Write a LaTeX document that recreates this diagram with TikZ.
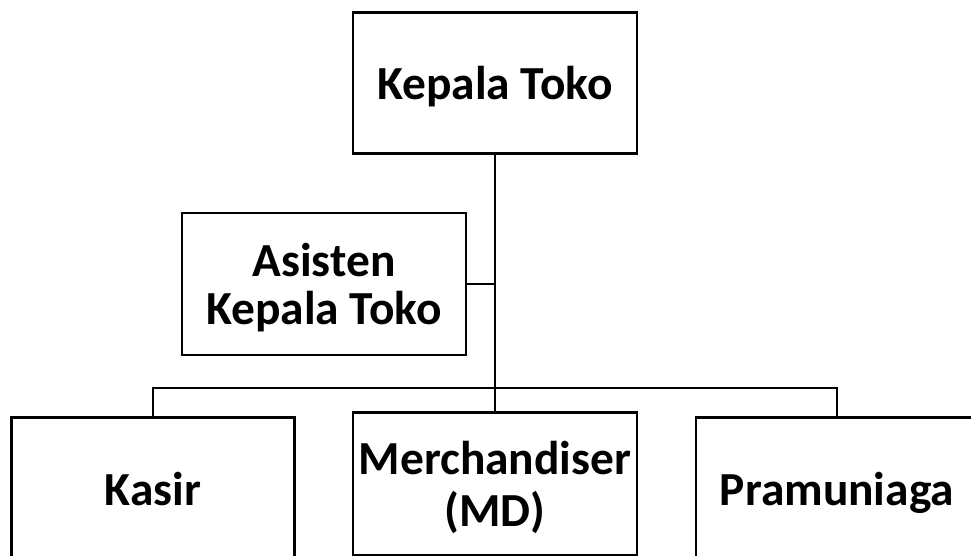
\documentclass[tikz,border=0pt]{standalone}
\usepackage{fontspec}
\setmainfont{Carlito}
\usetikzlibrary{positioning, calc}
\tikzset{
  unit/.style={draw, line width=1.7pt, align=center, font=\fontsize{27}{27}\selectfont\bfseries,
    inner sep=0pt, text depth=0pt},
  link/.style={line width=1.1pt}
}

\begin{document}
\begin{tikzpicture}[x=0.02cm, y=-0.02cm]
      \useasboundingbox (0,0) rectangle (971,555);
      \clip (0,0) rectangle (971,555);
      \node[unit, minimum width=284*0.02cm, minimum height=141*0.02cm] (kepala) at (495,83) {Kepala Toko};
      \node[unit, minimum width=284*0.02cm, minimum height=142*0.02cm] (asisten) at (324,284) {Asisten\\Kepala Toko};
      \node[unit, minimum width=283*0.02cm, minimum height=143*0.02cm] (kasir) at (153,489) {Kasir};
      \node[unit, font=\fontsize{27}{29.5}\selectfont\bfseries, minimum width=284*0.02cm,
        minimum height=143*0.02cm] (merch) at (495,484) {Merchandiser\\(MD)};
      \node[unit, minimum width=282*0.02cm, minimum height=143*0.02cm] (pram) at (837,489) {Pramuniaga};
      % horizontal bar above the three bottom units
      \coordinate (bar) at (495,388);
      \draw[link] (kepala.south) -- (merch.north);
      \draw[link] (asisten.east) -- (asisten.east -| kepala.south);
      \draw[link] (kasir.north) |- (bar) -| (pram.north);
   \end{tikzpicture}
\end{document}
